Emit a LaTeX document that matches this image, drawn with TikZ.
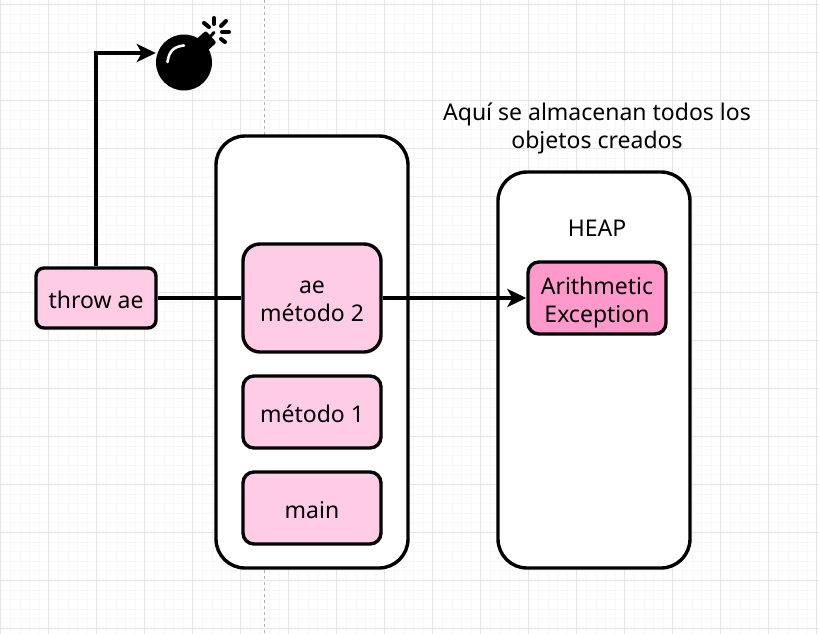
\documentclass[tikz,border=0pt]{standalone}
\usepackage{fontspec}
\setmainfont{Noto Sans}
\usetikzlibrary{
  calc,
  arrows.meta}
\definecolor{softpink}{HTML}{FFCCE6}
\definecolor{strongpink}{HTML}{FF99CC}
\tikzset{drop/.style={execute at begin node={\rule{0pt}{#1}}}}
\tikzstyle{txt} = [font=\fontsize{23}{28}\selectfont, align=center, inner sep=0pt, text depth=0pt]
\tikzstyle{frame} = [draw, line width=3.4pt, fill=white, rounded corners=29pt, minimum width=192pt, txt]
\tikzstyle{cell} = [draw, line width=3.4pt, fill=softpink, rounded corners=11pt, minimum width=138pt, minimum height=72pt, txt]
\tikzstyle{link} = [line width=3.4pt, >={Stealth[length=19pt,width=18pt,inset=5pt]}]

\begin{document}
\begin{tikzpicture}[x=1pt, y=-1pt, node distance=96pt]

\useasboundingbox (0,0) rectangle (819,634);

% paper grid
\foreach \i in {0,...,85} \draw[black!3, line width=.8pt] ({.7+9.6*\i},0) -- ({.7+9.6*\i},634);
\foreach \i in {0,...,66} \draw[black!3, line width=.8pt] (0,{4.4+9.6*\i}) -- (819,{4.4+9.6*\i});
\foreach \i in {0,...,17} \draw[black!10, line width=.8pt] ({.7+48*\i},0) -- ({.7+48*\i},634);
\foreach \i in {0,...,13} \draw[black!10, line width=.8pt] (0,{4.4+48*\i}) -- (819,{4.4+48*\i});
\draw[black!30, line width=.8pt, dashed] (264.5,0) -- (264.5,634);

\node[frame, minimum height=432pt] (stack) at (312,352) {};
\node[frame, minimum height=396pt] (heapbox) at (594,370) {};

\node[cell, drop=21.5pt, minimum width=120pt, minimum height=60pt, rounded corners=8pt] (throw) at (96,298) {throw ae};
\node[cell, minimum height=108pt, rounded corners=17pt] (ae) at (312,298) {\mbox{}\\[-8.7pt]ae\\método 2};
\node[cell, drop=21.5pt] (m1) at (312,412) {método 1};
\node[cell, drop=21.5pt, below of=m1] (main) {main};
\node[cell, fill=strongpink] (exc) at (597,298) {\mbox{}\\[-7pt]Arithmetic\\Exception};
\node[txt] (heap) at (597,228) {HEAP};
\node[txt] (note) at (597,126) {Aquí se almacenan todos los\\objetos creados};

% bomb
\node[minimum size=74pt, inner sep=0pt] (bomb) at (193,53) {};
\fill (184,62.5) circle (28pt);
\fill[rotate around={42:(203,44)}, rounded corners=2pt] (192,36) rectangle (214,52);
\draw[line width=3pt, line cap=round] (208,39) -- (214,32.5);
\draw[white, line width=2.6pt, line cap=round] (167.5,62) .. controls (169,51) and (174,46.5) .. (184,45.5);
\foreach \a/\b/\c/\d in {204/23/209/27, 214/18/214/24, 221/26/226/21, 222/32/229/32, 221/39/225/42}
  \draw[line width=4pt, line cap=round] (\a,\b) -- (\c,\d);

\draw[link,->] (throw.north) |- (bomb.west);
\draw[link] (throw) -- (ae);
\draw[link,->] (ae) -- (exc);

\end{tikzpicture}
\end{document}
